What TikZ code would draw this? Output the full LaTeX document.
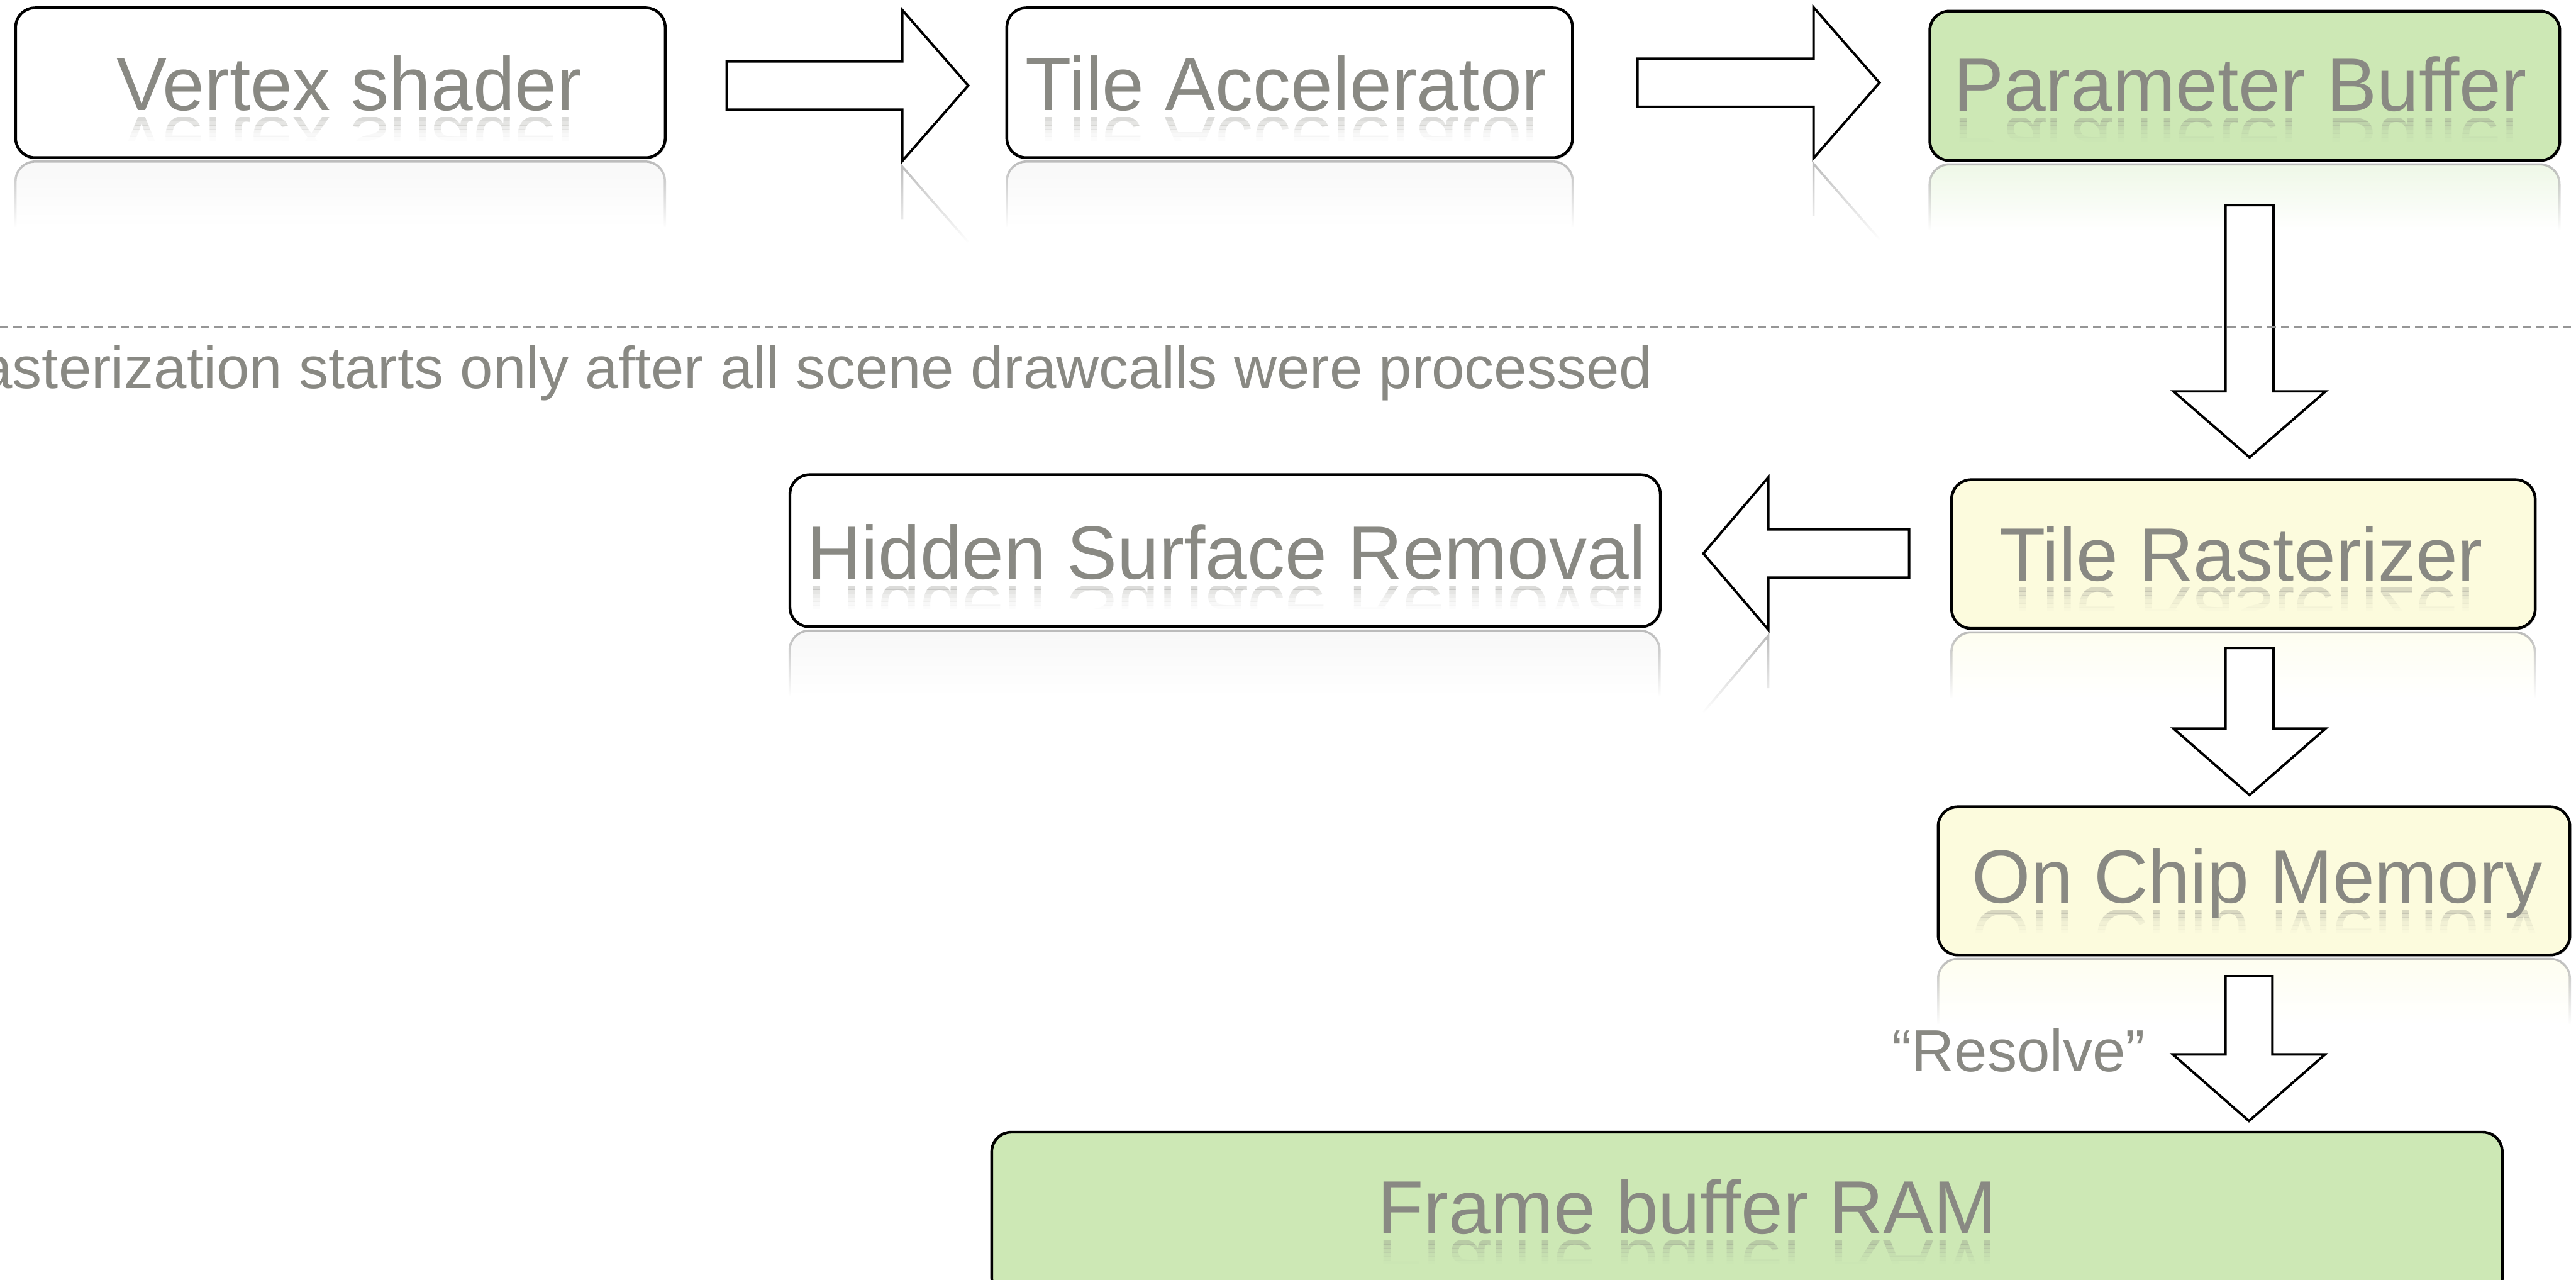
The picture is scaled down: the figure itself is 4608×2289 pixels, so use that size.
\documentclass[tikz,border=0pt]{standalone}
\usepackage{fontspec}
\setmainfont{Liberation Sans}
\usetikzlibrary{fadings,shadows}
\definecolor{txtgray}{RGB}{137,137,131}
\definecolor{pbgreen}{RGB}{205,232,181}
\definecolor{tryellow}{RGB}{252,251,221}
\definecolor{dashgray}{RGB}{150,150,150}
\tikzfading[name=reflfade, top color=transparent!25, bottom color=transparent!100]

% box with its faded mirror image below
\newcommand\stagebox[7]{% name, x1, y1, x2, y2, fill, reflection fill
  \path[refl, fill=#7, rounded corners=8.75pt] (#2,#5+124) -- (#2,#5+7) -- (#4,#5+7) -- (#4,#5+124);
  \node[box, fill=#6, minimum width={(#4-#2)*0.25pt}, minimum height={(#5-#3)*0.25pt}] (#1) at ({(#2+#4)/2},{(#3+#5)/2}) {};
}
% faded mirror image of a label
\newcommand\mirrortext[4]{% x, baseline y, style, text
  \foreach \k/\op in {0/0.30,1/0.22,2/0.15,3/0.09,4/0.05,5/0.02}{%
    \begin{scope}
      \clip (#1-900,#2+12+\k*7) rectangle (#1+900,#2+19+\k*7);
      \node[#3, yscale=-1, text opacity=\op] at (#1,#2+12) {#4};
    \end{scope}}%
}
% horizontal block arrow: x0 (tail), xb (head base), xt (tip), ym, shaft half, head half
\newcommand\harrow[6]{%
  \draw[blockarrow] (#1,#4-#5) -- (#2,#4-#5) -- (#2,#4-#6) -- (#3,#4) -- (#2,#4+#6) -- (#2,#4+#5) -- (#1,#4+#5) -- cycle;
}
% vertical block arrow: y0 (tail), yb (head base), yt (tip), xm, shaft half, head half
\newcommand\varrow[6]{%
  \draw[blockarrow] (#4-#5,#1) -- (#4-#5,#2) -- (#4-#6,#2) -- (#4,#3) -- (#4+#6,#2) -- (#4+#5,#2) -- (#4+#5,#1) -- cycle;
}

\begin{document}
\begin{tikzpicture}[x=0.25pt, y=-0.25pt,
  box/.style={draw=black, line width=1.25pt, rounded corners=8.75pt, inner sep=0pt,
    drop shadow={shadow xshift=0.7pt, shadow yshift=-0.7pt, opacity=0.15, fill=black!60}},
  lbl/.style={text=txtgray, font=\fontsize{33.75pt}{40pt}\selectfont, inner sep=0pt, anchor=base},
  smalllbl/.style={text=txtgray, font=\fontsize{26.5pt}{32pt}\selectfont, inner sep=0pt, anchor=base},
  blockarrow/.style={draw=black, fill=white, line width=1.1pt, line join=miter},
  refl/.style={draw=black!35, line width=1pt, path fading=reflfade},
]
\useasboundingbox (0,0) rectangle (4608,2289);
\clip (0,0) rectangle (4608,2289);

% boxes
\stagebox{vs}{28}{14}{1190}{282}{white}{black!4}
\stagebox{ta}{1801}{14}{2813}{282}{white}{black!4}
\stagebox{pb}{3452}{20}{4579}{287}{pbgreen}{pbgreen!45}
\stagebox{hsr}{1413}{849}{2970}{1121}{white}{black!4}
\stagebox{tr}{3491}{858}{4535}{1124}{tryellow}{tryellow!60}
\stagebox{ocm}{3467}{1443}{4597}{1708}{tryellow}{tryellow!60}
\node[box, fill=pbgreen, minimum width={(4476-1774)*0.25pt}, minimum height={(2320-2025)*0.25pt}] (fb) at (3125,2172.5) {};

% arrow reflections
\path[refl] (1614,392) -- (1614,298) -- (1732,433);
\path[refl] (3244,386) -- (3244,293) -- (3362,428);
\path[refl] (3163,1231) -- (3163,1137) -- (3047,1274);

% block arrows
\harrow{1300}{1614}{1732}{153}{43}{135}
\harrow{2929}{3244}{3362}{148}{43}{135}
\harrow{3415}{3163}{3047}{990}{43}{136}
\varrow{367}{700}{818}{4024}{43}{136}
\varrow{1159}{1303}{1422}{4024}{43}{136}
\varrow{1746}{1886}{2005}{4023}{42}{136}

% separator
\coordinate (sepL) at (0,585);
\coordinate (sepR) at (4608,585);
\draw[dashgray, line width=1pt, dash pattern=on 3.75pt off 2.25pt] (sepL) -- (sepR);

% labels
\node[lbl] (vs-t) at (625,198) {Vertex shader};
\node[lbl] (ta-t) at (2301,198) {Tile Accelerator};
\node[lbl] (pb-t) at (4007,199) {Parameter Buffer};
\node[lbl] (hsr-t) at (2194,1036) {Hidden Surface Removal};
\node[lbl] (tr-t) at (4009,1039) {Tile Rasterizer};
\node[lbl] (ocm-t) at (4038,1615) {On Chip Memory};
\node[lbl] (fb-t) at (3018,2207) {Frame buffer RAM};

\mirrortext{625}{198}{lbl}{Vertex shader}
\mirrortext{2301}{198}{lbl}{Tile Accelerator}
\mirrortext{4007}{199}{lbl}{Parameter Buffer}
\mirrortext{2194}{1036}{lbl}{Hidden Surface Removal}
\mirrortext{4009}{1039}{lbl}{Tile Rasterizer}
\mirrortext{4038}{1615}{lbl}{On Chip Memory}
\mirrortext{3018}{2207}{lbl}{Frame buffer RAM}

\node[smalllbl, anchor=base west] (cap) at (-114,695) {Rasterization starts only after all scene drawcalls were processed};
\node[smalllbl] (res) at (3611,1916) {“Resolve”};
\end{tikzpicture}
\end{document}
